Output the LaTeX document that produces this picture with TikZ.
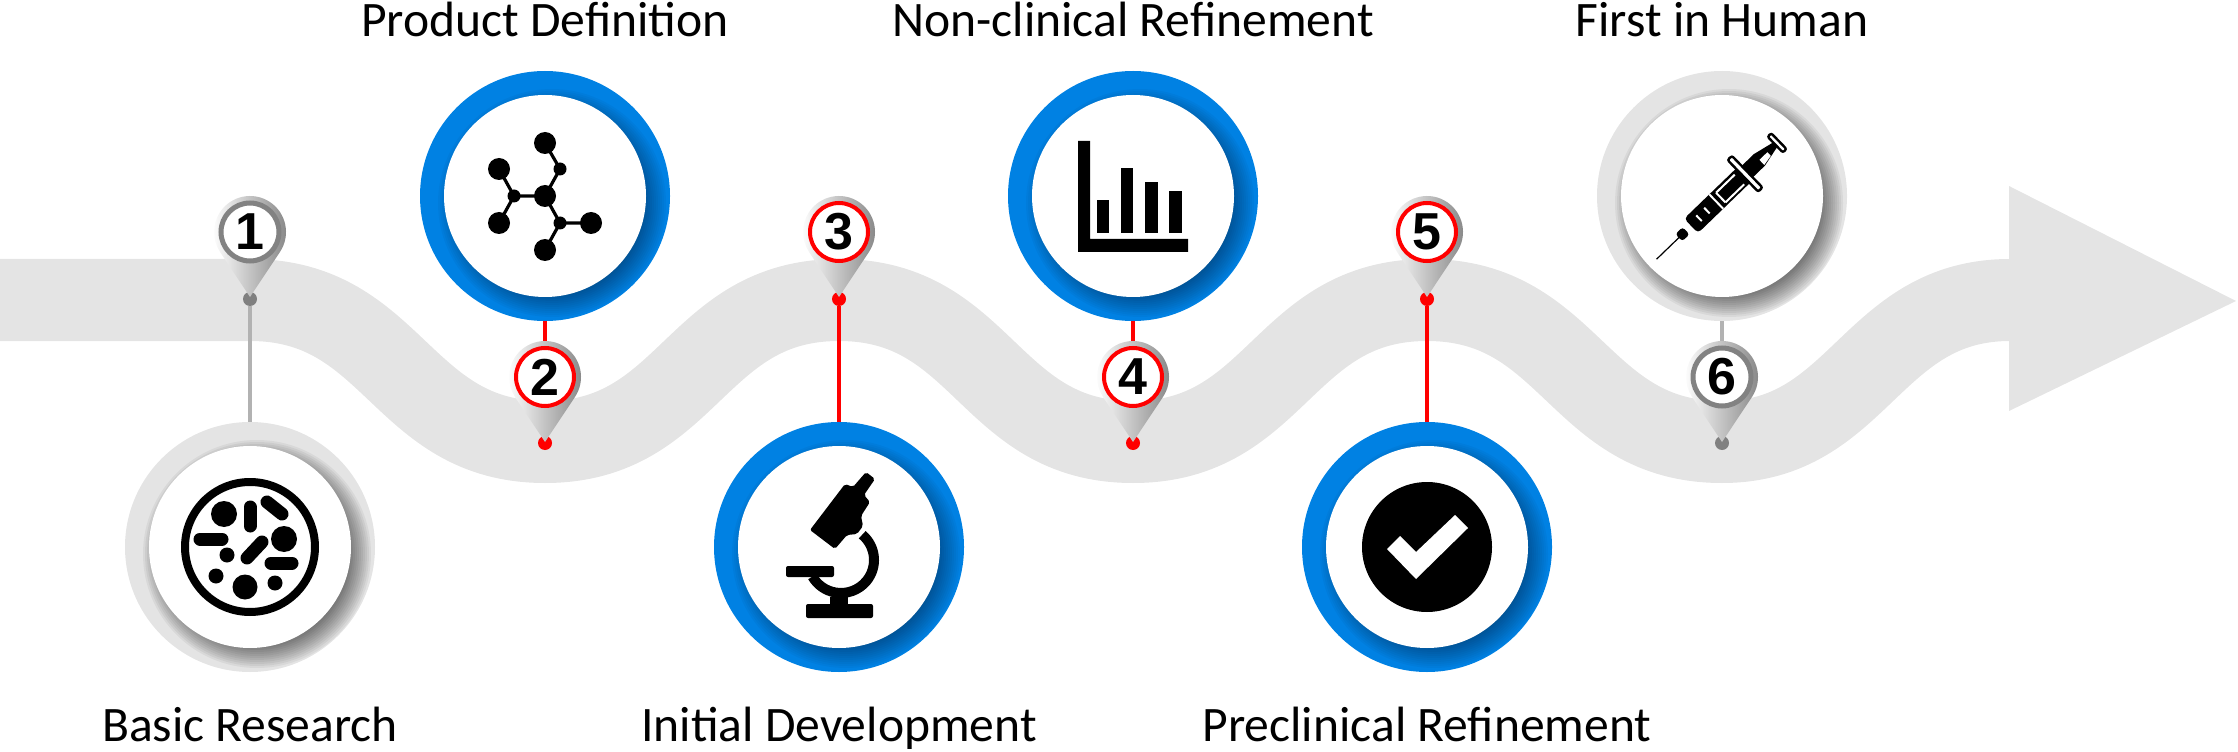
\documentclass[tikz,border=0pt]{standalone}
\usepackage{fontspec}
\setmainfont{Carlito}
\newfontfamily\pinfont{Liberation Sans}
\usetikzlibrary{calc,positioning}
\definecolor{bandgrey}{HTML}{E4E4E4}
\definecolor{ringblue}{HTML}{0081E3}
\definecolor{pingrey}{HTML}{828282}
\definecolor{linkgrey}{HTML}{B2B2B2}
\definecolor{dotgrey}{HTML}{808080}
\tikzset{
 band/.style={draw=bandgrey,line width=41pt},
 stagering/.style 2 args={circle,minimum size=125pt,inner sep=0pt,fill=#1,path picture={
  \foreach \rad in {114,112,...,92} \fill[black,opacity=#2] ($(path picture bounding box.center)+(7,-7)$) circle (\rad);
  \fill[white] (path picture bounding box.center) circle (101);}},
 greyring/.style={stagering={bandgrey}{0.05}},
 bluering/.style={stagering={ringblue}{0.03}},
 pinbody/.style={left color=white,right color=pingrey},
 pinnum/.style={circle,fill=white,minimum size=29pt,inner sep=0pt,font=\pinfont\bfseries\fontsize{26}{26}\selectfont},
 greynum/.style={pinnum,draw=pingrey,line width=2.5pt},
 rednum/.style={pinnum,draw=red,line width=2pt},
 greydot/.style={circle,fill=dotgrey,minimum size=7pt,inner sep=0pt},
 reddot/.style={circle,fill=red,minimum size=7pt,inner sep=0pt},
 greylink/.style={draw=linkgrey,line width=2pt},
 redlink/.style={draw=red,line width=2pt},
 steplabel/.style={inner sep=0pt,text height=17pt,text depth=5pt,font=\fontsize{24.8}{27}\selectfont},
 pill/.style={line width=6.5pt,line cap=round},
 bond/.style={line width=1.6pt}}
\newcommand{\pinmark}[3]{
 \shade[pinbody] ($(#2)+(-33.6:36)$) arc (-33.6:213.6:36) -- ($(#2)+(0,-65)$) -- cycle;
 \node[#3] (num#1) at (#2) {#1};}
\begin{document}
\begin{tikzpicture}[x=0.5pt,y=0.5pt]
\useasboundingbox (0,0) rectangle (2238,751);
\draw[band] (0,451) -- (250,451) .. controls (395,451) and (400,309) .. (545,309) .. controls (690,309) and (694,451) .. (839,451) .. controls (984,451) and (988,309) .. (1133,309) .. controls (1278,309) and (1282,451) .. (1427,451) .. controls (1572,451) and (1577,309) .. (1722,309) .. controls (1860,309) and (1870,451) .. (2010,451);
\fill[bandgrey] (2009,565) -- (2236,450) -- (2009,340) -- cycle;
\node[greyring] (basic) at (250,204) {};
\node[bluering] (product) at (545,555) {};
\node[bluering] (initial) at (839,204) {};
\node[bluering] (nonclin) at (1133,555) {};
\node[bluering] (precl) at (1427,204) {};
\node[greyring] (human) at (1722,555) {};
\node[greydot] (dot1) at (250,452) {};
\node[reddot] (dot2) at (545,308) {};
\node[reddot] (dot3) at (839,452) {};
\node[reddot] (dot4) at (1133,308) {};
\node[reddot] (dot5) at (1427,452) {};
\node[greydot] (dot6) at (1722,308) {};
\draw[greylink] (dot1)--(basic); \draw[redlink] (dot2)--(product); \draw[redlink] (dot3)--(initial);
\draw[redlink] (dot4)--(nonclin); \draw[redlink] (dot5)--(precl); \draw[greylink] (dot6)--(human);
\pinmark{1}{250,519}{greynum}
\pinmark{2}{545,374}{rednum}
\pinmark{3}{839,519}{rednum}
\pinmark{4}{1133,374}{rednum}
\pinmark{5}{1427,519}{rednum}
\pinmark{6}{1722,374}{greynum}
\node[steplabel,below=17.5pt of basic] (basiclabel) {Basic Research};
\node[steplabel,above=12pt of product] (productlabel) {Product Definition};
\node[steplabel,below=17.5pt of initial] (initiallabel) {Initial Development};
\node[steplabel,above=12pt of nonclin] (nonclinlabel) {Non-clinical Refinement};
\node[steplabel,below=17.5pt of precl] (precllabel) {Preclinical Refinement};
\node[steplabel,above=12pt of human] (humanlabel) {First in Human};
\begin{scope}[shift={(basic.center)}]
\draw[line width=4pt] (0,0) circle (65);
\fill (-26,33) circle (13); \fill (34,8) circle (13); \fill (-23,-8) circle (7.5); \fill (-34,-29) circle (7.5);
\fill (-5,-40) circle (12.5); \fill (25,-36) circle (7.5);
\draw[pill] (0,21)--(0,40); \draw[pill] (17,45)--(32,33); \draw[pill] (-50,8)--(-28,8);
\draw[pill] (-3,-11)--(12,5); \draw[pill] (21,-16)--(42,-16);
\end{scope}
\begin{scope}[shift={(product.center)}]
\draw[bond] (0,53)--(15,27)--(0,0)--(-31,0)--(-46,27); \draw[bond] (-31,0)--(-46,-27);
\draw[bond] (0,0)--(15,-27)--(46,-27); \draw[bond] (15,-27)--(0,-54);
\foreach \px/\py in {0/53,-46/27,-46/-27,46/-27,0/-54,0/0} \fill (\px,\py) circle (11);
\foreach \px/\py in {15/27,-31/0,15/-27} \fill (\px,\py) circle (6.5);
\end{scope}
\begin{scope}[shift={(initial.center)}]
\fill[rounded corners=1pt] (-29,17) -- (6,63) -- (14,60) -- (27,75) -- (36,68) -- (25,52) -- (31,45) -- (22,31) -- (24,21) -- (18,13) -- (8,12) -- (-4,-2) -- cycle;
\draw[line width=5pt] ($(2,-13)+(50:33)$) arc (50:-150:33);
\fill[rounded corners=1pt] (-53,-19) rectangle (-5,-30);
\fill (-9,-50) rectangle (9,-58);
\fill[rounded corners=1pt] (-33,-57) rectangle (34,-71);
\end{scope}
\begin{scope}[shift={(nonclin.center)}]
\fill (-55,55) -- (-43,55) -- (-43,-43) -- (55,-43) -- (55,-56) -- (-55,-56) -- cycle;
\fill (-36,-37) rectangle (-24,-4); \fill (-12,-37) rectangle (0,28);
\fill (12,-37) rectangle (25,14); \fill (36,-37) rectangle (49,5);
\end{scope}
\begin{scope}[shift={(precl.center)}]
\fill (0,0) circle (65);
\fill[white] (-40,-2) -- (-27,11) -- (-11,-5) -- (28,32) -- (41,19) -- (-11,-32) -- cycle;
\end{scope}
\begin{scope}[shift={(human.center)},rotate=44]
\draw[line width=0.6pt] (-91,0)--(-58,0);
\fill[rounded corners=1.5pt] (-60,-5) rectangle (-50,5);
\fill[rounded corners=2pt] (-43,-10) rectangle (32,10);
\fill (32,-8) -- (52,-8) -- (74,-3) -- (74,3) -- (52,8) -- (32,8) -- cycle;
\fill[white] (52,-7) -- (63,-5) -- (63,0) -- (52,0) -- cycle;
\draw[white,line width=1pt] (-2,6.5)--(24,6.5); \draw[white,line width=1pt] (-2,-7)--(24,-7);
\draw[white,line width=1pt] (-8,-10)--(-8,10); \draw[white,line width=1pt] (-2,6.5)--(-2,-7);
\draw[white,line width=1pt] (-21,-4)--(-21,4); \draw[white,line width=1pt] (-32,-4)--(-32,4);
\draw[fill=white,draw=black,line width=1.2pt,rounded corners=1pt] (29,-22) rectangle (35,22);
\draw[fill=white,draw=black,line width=1.2pt,rounded corners=1pt] (74,-11) rectangle (79,11);
\end{scope}
\end{tikzpicture}
\end{document}
